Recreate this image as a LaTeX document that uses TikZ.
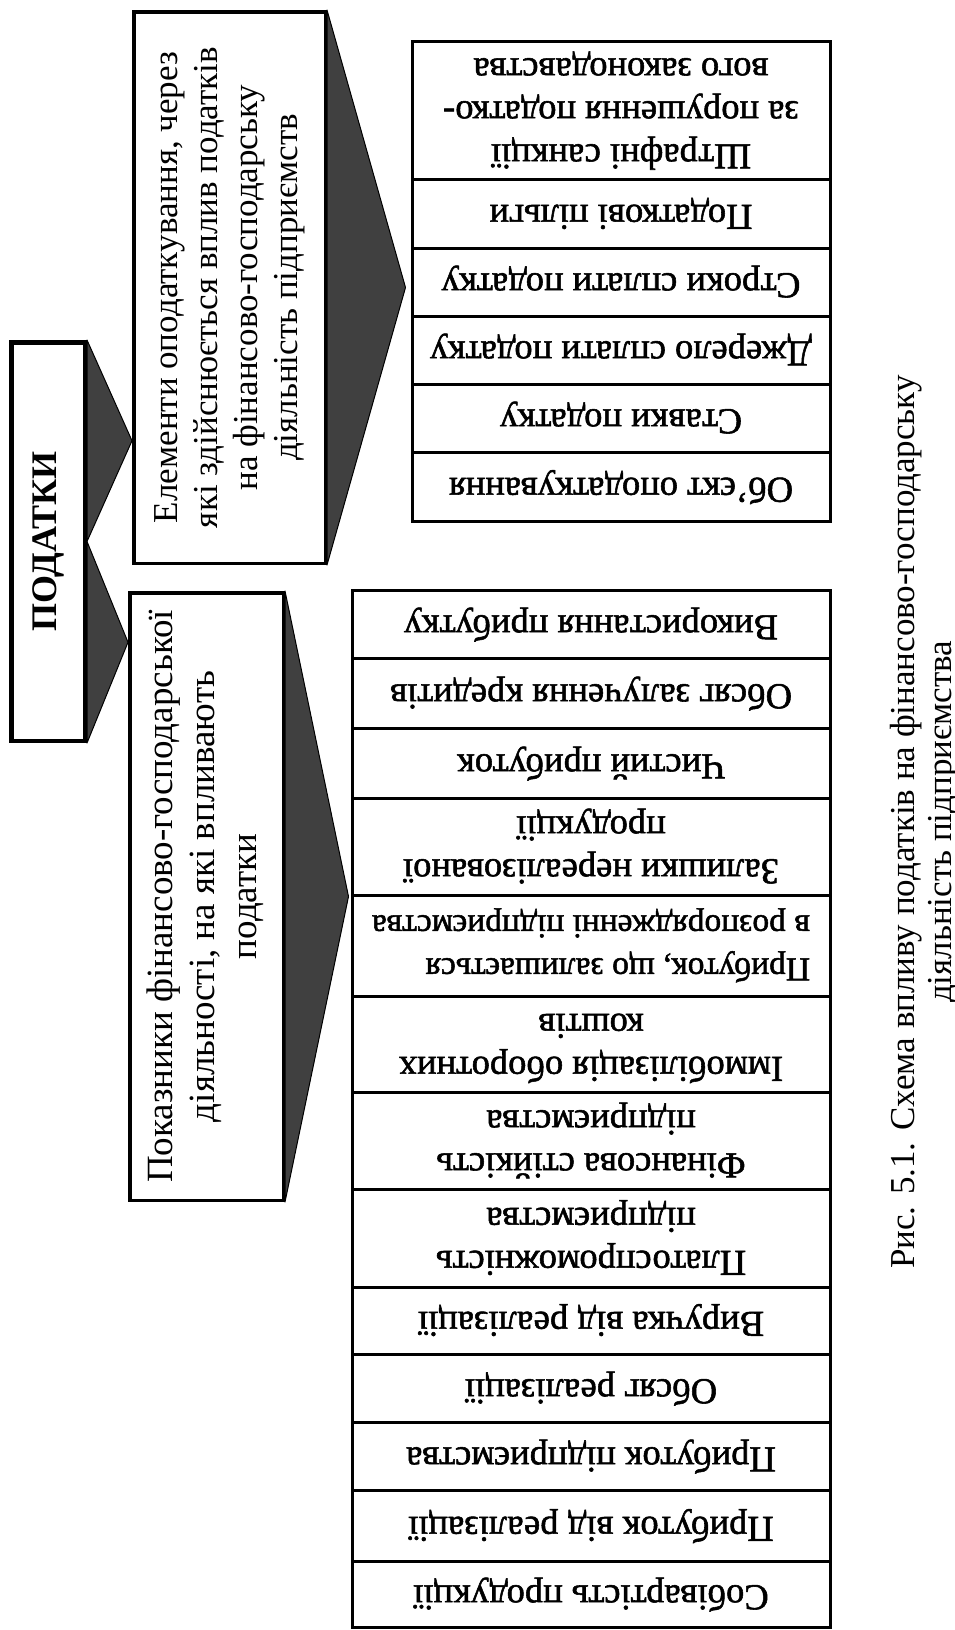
\documentclass[tikz,border=0pt]{standalone}
\usepackage{fontspec}
\usepackage{graphicx}
\setmainfont{Liberation Serif}
\newfontfamily\cellfont[FakeBold=1.5]{Liberation Serif}
\usetikzlibrary{calc}

% text turned to read upwards / upside down, centred lines
\newcommand\txtup[1]{\rotatebox{90}{\begin{tabular}{@{}c@{}}#1\end{tabular}}}
\newcommand\txtflip[1]{\rotatebox{180}{\begin{tabular}{@{}c@{}}#1\end{tabular}}}
\newcommand\txtflipl[1]{\rotatebox{180}{\begin{tabular}{@{}l@{}}#1\end{tabular}}}

\begin{document}
\begin{tikzpicture}[x=1pt,y=-1pt,
  bigbox/.style={draw, line width=3.5pt, inner sep=0pt},
  cell/.style={draw, line width=3pt, inner sep=0pt, font=\cellfont\fontsize{36.5}{43}\selectfont},
  wedge/.style={fill=black!75, draw=black, line width=1pt, line join=round},
  hdr/.style={font=\fontsize{35}{40}\selectfont}
]
\useasboundingbox (0,0) rectangle (955,1630);

% main box and the two group headers
\node[bigbox, line width=4.5pt, minimum width=73.5, minimum height=398.5] (pod) at (48,541.5)
  {\rotatebox{90}{\fontsize{36}{40}\selectfont\bfseries ПОДАТКИ}};
\node[bigbox, hdr, minimum width=191.5, minimum height=551.5] (elem) at (229.5,287.5)
  {\txtup{Елементи оподаткування, через\\які здійснюється вплив податків\\на фінансово-господарську\\діяльність підприємств}};
\node[bigbox, hdr, font=\fontsize{37}{42}\selectfont, minimum width=153.5, minimum height=607.5] (pok) at (206.5,896.5)
  {\txtup{Показники фінансово-господарської\\діяльності, на які впливають\\податки}};

% elements of taxation
\node[cell, minimum width=418, minimum height=138] (e1) at (621,110)
  {\txtflip{Штрафні санкції\\за порушення податко-\\вого законодавства}};
\node[cell, minimum width=418, minimum height=69] (e2) at (621,213.5) {\txtflip{Податкові пільги}};
\node[cell, minimum width=418, minimum height=68] (e3) at (621,282) {\txtflip{Строки сплати податку}};
\node[cell, minimum width=418, minimum height=68] (e4) at (621,350) {\txtflip{Джерело сплати податку}};
\node[cell, minimum width=418, minimum height=68] (e5) at (621,418) {\txtflip{Ставки податку}};
\node[cell, minimum width=418, minimum height=69] (e6) at (621,486.5) {\txtflip{Об’єкт оподаткування}};

% indicators of financial and economic activity
\node[cell, minimum width=478, minimum height=68] (i1) at (591,624) {\txtflip{Використання прибутку}};
\node[cell, minimum width=478, minimum height=70] (i2) at (591,693) {\txtflip{Обсяг залучення кредитів}};
\node[cell, minimum width=478, minimum height=70] (i3) at (591,763) {\txtflip{Чистий прибуток}};
\node[cell, minimum width=478, minimum height=97] (i4) at (591,846.5) {\txtflip{Залишки нереалізованої\\продукції}};
\node[cell, font=\cellfont\fontsize{33.5}{43}\selectfont, minimum width=478, minimum height=101] (i5) at (591,945.5)
  {\txtflipl{Прибуток, що залишається\\в розпорядженні підприємства}};
\node[cell, minimum width=478, minimum height=96] (i6) at (591,1044) {\txtflip{Іммобілізація оборотних\\коштів}};
\node[cell, minimum width=478, minimum height=97] (i7) at (591,1140.5) {\txtflip{Фінансова стійкість\\підприємства}};
\node[cell, minimum width=478, minimum height=98] (i8) at (591,1238) {\txtflip{Платоспроможність\\підприємства}};
\node[cell, minimum width=478, minimum height=67] (i9) at (591,1320.5) {\txtflip{Виручка від реалізації}};
\node[cell, minimum width=478, minimum height=68] (i10) at (591,1388) {\txtflip{Обсяг реалізації}};
\node[cell, minimum width=478, minimum height=68] (i11) at (591,1456) {\txtflip{Прибуток підприємства}};
\node[cell, minimum width=478, minimum height=71] (i12) at (591,1525.5) {\txtflip{Прибуток від реалізації}};
\node[cell, minimum width=478, minimum height=66] (i13) at (591,1594) {\txtflip{Собівартість продукції}};

% caption
\node[font=\fontsize{35}{37}\selectfont] (cap) at (926,822)
  {\txtup{Рис. 5.1. Схема впливу податків на фінансово-господарську\\діяльність підприємства}};

% wedge-shaped connectors
\coordinate (t1) at ($(elem.west |- pod.north east)!0.5!(elem.west |- pod.east)$);
\coordinate (t2) at ($(pok.west |- pod.east)!0.5!(pok.west |- pod.south east)$);
\coordinate (t3) at ($(e1.west |- elem.east)+(-5,0)$);
\coordinate (t4) at ($(i1.west |- pok.east)+(-2,0)$);
\filldraw[wedge] (pod.north east) -- (pod.east) -- (t1) -- cycle;
\filldraw[wedge] (pod.east) -- (pod.south east) -- (t2) -- cycle;
\filldraw[wedge] (elem.north east) -- (elem.south east) -- (t3) -- cycle;
\filldraw[wedge] (pok.north east) -- (pok.south east) -- (t4) -- cycle;
\end{tikzpicture}
\end{document}
